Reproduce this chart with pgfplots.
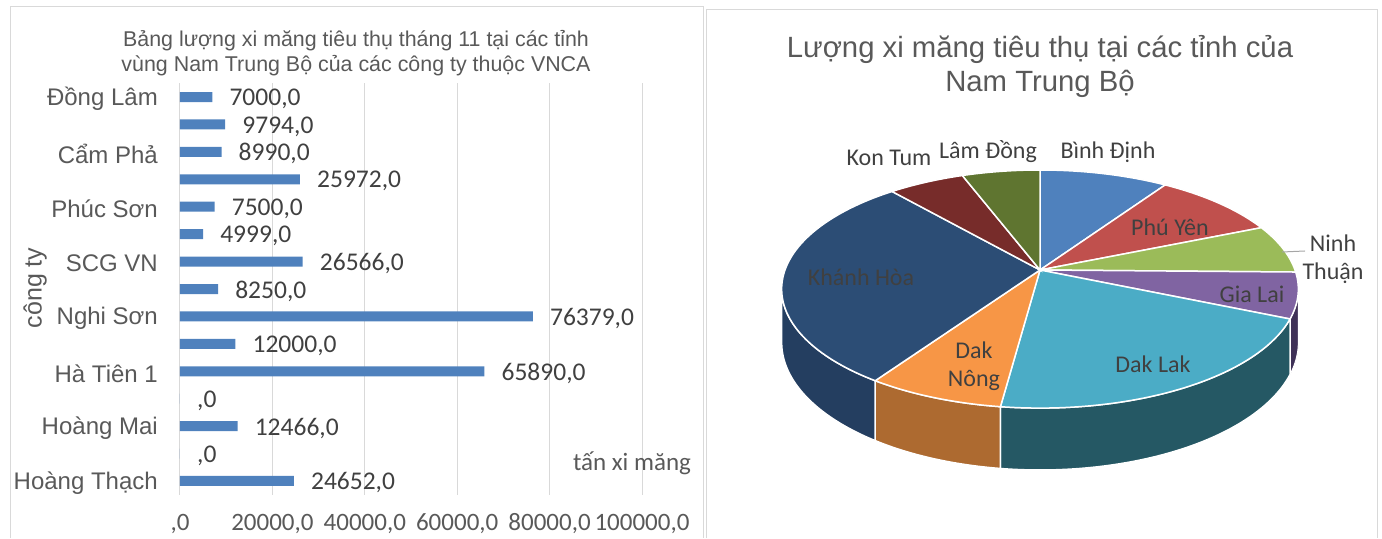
\documentclass[border=0pt]{standalone}
\usepackage{pgfplots}
\usepackage{pgfplotstable}
\pgfplotsset{compat=1.18}
\usepgfplotslibrary{fillbetween}
\usepackage{fontspec}
\setmainfont{Liberation Sans}
\newfontfamily\calibri{Carlito}

\definecolor{txt}{HTML}{595959}
\definecolor{lbl}{HTML}{404040}
\definecolor{gridc}{HTML}{D9D9D9}
\definecolor{barblue}{HTML}{4F81BD}
\definecolor{bdinh}{HTML}{4F81BD}
\definecolor{pyen}{HTML}{C0504D}
\definecolor{nthuan}{HTML}{9BBB59}
\definecolor{glai}{HTML}{8064A2}
\definecolor{dlak}{HTML}{4BACC6}
\definecolor{dnong}{HTML}{F79646}
\definecolor{khoa}{HTML}{2C4D75}
\definecolor{ktum}{HTML}{772C2A}
\definecolor{ldong}{HTML}{5F7530}
% darker side walls
\definecolor{glaiW}{HTML}{3F3157}
\definecolor{dlakW}{HTML}{255864}
\definecolor{dnongW}{HTML}{AD6A30}
\definecolor{khoaW}{HTML}{243E60}

% bar chart, index 0 = top bar
\pgfplotstableread{
idx val lbl
0 7000 7000,0
1 9794 9794,0
2 8990 8990,0
3 25972 25972,0
4 7500 7500,0
5 4999 4999,0
6 26566 26566,0
7 8250 8250,0
8 76379 76379,0
9 12000 12000,0
10 65890 65890,0
11 0 ,0
12 12466 12466,0
13 0 ,0
14 24652 24652,0
}\bars

% pie slices (degrees), clockwise from 12 o'clock
\pgfmathsetmacro\aA{0}
\pgfmathsetmacro\aB{\aA+33.8}  % Binh Dinh
\pgfmathsetmacro\aC{\aB+33.4}  % Phu Yen
\pgfmathsetmacro\aD{\aC+23.8}  % Ninh Thuan
\pgfmathsetmacro\aE{\aD+22.3}  % Gia Lai
\pgfmathsetmacro\aF{\aE+74.2}  % Dak Lak
\pgfmathsetmacro\aG{\aF+26.6}  % Dak Nong
\pgfmathsetmacro\aH{\aG+105.3} % Khanh Hoa
\pgfmathsetmacro\aI{\aH+20.1}  % Kon Tum
\pgfmathsetmacro\aJ{\aI+20.5}  % Lam Dong
% visible side of the cylinder
\def\wL{99.2}
\def\wR{260.8}

\begin{document}
\begin{tikzpicture}
% chart frames
\draw[gridc, line width=1pt] (10pt,0pt) -- (10pt,531pt) -- (703pt,531pt) -- (703pt,0pt);
\draw[gridc, line width=1pt] (706pt,0pt) -- (706pt,528pt) -- (1377pt,528pt) -- (1377pt,0pt);
\path (0pt,0pt) rectangle (1382pt,538pt);

% ---------- left: bar chart ----------
\begin{axis}[
  at={(180pt,43.3pt)}, anchor=south west,
  scale only axis, width=462pt, height=411.4pt,
  xmin=0, xmax=100000, ymin=-0.5, ymax=14.5, y dir=reverse,
  xbar, bar width=10pt,
  axis line style={draw=none},
  xmajorgrids, grid style={gridc, line width=1pt},
  major tick length=0pt,
  xtick={0,20000,40000,60000,80000,100000},
  xticklabels={{,0},{20000,0},{40000,0},{60000,0},{80000,0},{100000,0}},
  scaled x ticks=false,
  xticklabel style={font=\calibri\fontsize{25}{30}\selectfont, text=txt, anchor=center, yshift=-29pt},
  ytick={0,...,14},
  yticklabels={Đồng Lâm,,Cẩm Phả,,Phúc Sơn,,SCG VN,,Nghi Sơn,,Hà Tiên 1,,Hoàng Mai,,Hoàng Thạch},
  yticklabel style={font=\fontsize{24}{28}\selectfont, text=txt, anchor=east, inner sep=0pt, xshift=-22pt, yshift=-2pt},
  nodes near coords, point meta=explicit symbolic,
  nodes near coords style={font=\calibri\fontsize{25.5}{30}\selectfont, text=lbl, anchor=west, inner sep=0pt, xshift=17pt, yshift=-2pt},
  clip=false,
]
\addplot[fill=barblue, draw=none] table[x=val, y=idx, meta=lbl] {\bars};
\end{axis}

\node[font=\fontsize{21.4}{25}\selectfont, text=txt, align=center] at (356pt,485pt)
  {Bảng lượng xi măng tiêu thụ tháng 11 tại các tỉnh\\vùng Nam Trung Bộ của các công ty thuộc VNCA};
\node[font=\fontsize{25}{30}\selectfont, text=txt, rotate=90] at (35pt,250pt) {công ty};
\node[font=\calibri\fontsize{25}{30}\selectfont, text=txt] at (632pt,75pt) {tấn xi măng};

% ---------- right: 3D pie ----------
\begin{axis}[
  at={(705pt,0pt)}, anchor=south west,
  scale only axis, width=670pt, height=538pt,
  xmin=-335, xmax=335, ymin=-268, ymax=270,
  hide axis, clip=false,
  declare function={
    den(\t)=1+0.16*cos(\t);
    px(\t)=255*sin(\t)/den(\t);
    py(\t)=116*cos(\t)/den(\t);
    pb(\t)=(116*cos(\t)-52)/den(\t);
  },
]
% side walls
\addplot[draw=none, name path=gt, domain=\wL:\aE, samples=15] ({px(x)},{py(x)});
\addplot[draw=none, name path=gb, domain=\wL:\aE, samples=15] ({px(x)},{pb(x)});
\addplot[fill=glaiW, draw=white, line width=1pt] fill between[of=gt and gb];

\addplot[draw=none, name path=lt, domain=\aE:\aF, samples=50] ({px(x)},{py(x)});
\addplot[draw=none, name path=lb, domain=\aE:\aF, samples=50] ({px(x)},{pb(x)});
\addplot[fill=dlakW, draw=white, line width=1.5pt] fill between[of=lt and lb];

\addplot[draw=none, name path=nt, domain=\aF:\aG, samples=20] ({px(x)},{py(x)});
\addplot[draw=none, name path=nb, domain=\aF:\aG, samples=20] ({px(x)},{pb(x)});
\addplot[fill=dnongW, draw=white, line width=1.5pt] fill between[of=nt and nb];

\addplot[draw=none, name path=kt, domain=\aG:\wR, samples=40] ({px(x)},{py(x)});
\addplot[draw=none, name path=kb, domain=\aG:\wR, samples=40] ({px(x)},{pb(x)});
\addplot[fill=khoaW, draw=white, line width=1.5pt] fill between[of=kt and kb];

% top faces
\addplot[fill=bdinh, draw=white, line width=1.5pt, domain=\aA:\aB, samples=30] ({px(x)},{py(x)}) -- (axis cs:0,0) -- cycle;
\addplot[fill=pyen, draw=white, line width=1.5pt, domain=\aB:\aC, samples=30] ({px(x)},{py(x)}) -- (axis cs:0,0) -- cycle;
\addplot[fill=nthuan, draw=white, line width=1.5pt, domain=\aC:\aD, samples=30] ({px(x)},{py(x)}) -- (axis cs:0,0) -- cycle;
\addplot[fill=glai, draw=white, line width=1.5pt, domain=\aD:\aE, samples=30] ({px(x)},{py(x)}) -- (axis cs:0,0) -- cycle;
\addplot[fill=dlak, draw=white, line width=1.5pt, domain=\aE:\aF, samples=60] ({px(x)},{py(x)}) -- (axis cs:0,0) -- cycle;
\addplot[fill=dnong, draw=white, line width=1.5pt, domain=\aF:\aG, samples=30] ({px(x)},{py(x)}) -- (axis cs:0,0) -- cycle;
\addplot[fill=khoa, draw=white, line width=1.5pt, domain=\aG:\aH, samples=80] ({px(x)},{py(x)}) -- (axis cs:0,0) -- cycle;
\addplot[fill=ktum, draw=white, line width=1.5pt, domain=\aH:\aI, samples=30] ({px(x)},{py(x)}) -- (axis cs:0,0) -- cycle;
\addplot[fill=ldong, draw=white, line width=1.5pt, domain=\aI:\aJ, samples=30] ({px(x)},{py(x)}) -- (axis cs:0,0) -- cycle;
\end{axis}

\node[font=\fontsize{29.3}{34}\selectfont, text=txt, align=center] at (1040pt,472pt)
  {Lượng xi măng tiêu thụ tại các tỉnh của\\Nam Trung Bộ};

\begin{scope}[every node/.style={font=\calibri\fontsize{24}{28}\selectfont, text=lbl, align=center}]
\node at (1108pt,386pt) {Bình Định};
\node at (988pt,386pt) {Lâm Đồng};
\node at (889pt,380pt) {Kon Tum};
\node at (1170pt,311pt) {Phú Yên};
\node at (1333pt,279pt) {Ninh\\Thuận};
\node at (1252pt,244pt) {Gia Lai};
\node at (1153pt,174pt) {Dak Lak};
\node at (974pt,172pt) {Dak\\Nông};
\node at (861pt,261pt) {Khánh Hòa};
\end{scope}
\draw[gray!70, line width=1pt] (1282pt,286pt) -- (1305pt,287pt);
\end{tikzpicture}
\end{document}
